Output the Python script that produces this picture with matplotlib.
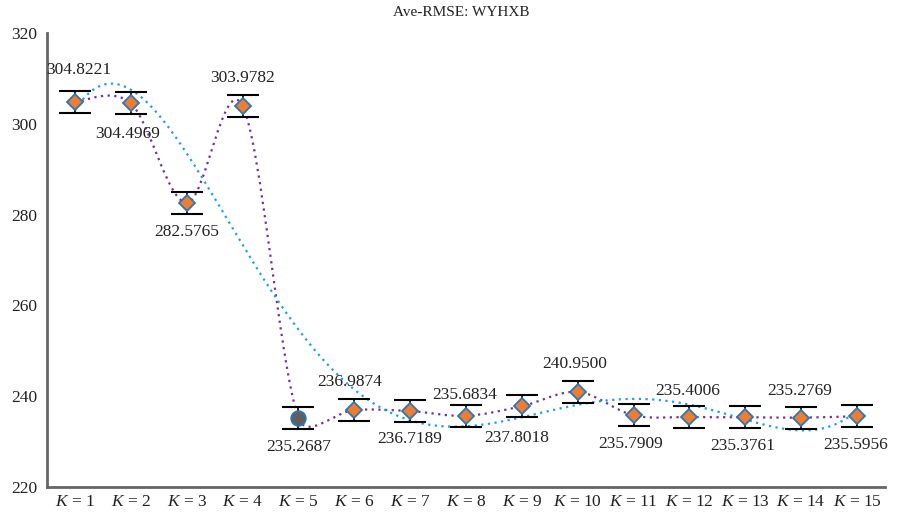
import numpy as np
import matplotlib.pyplot as plt
from matplotlib.path import Path
from matplotlib.patches import PathPatch

plt.rcParams['font.family'] = ['Liberation Serif', 'DejaVu Serif']
plt.rcParams['mathtext.fontset'] = 'custom'
plt.rcParams['mathtext.rm'] = 'Liberation Serif'
plt.rcParams['mathtext.it'] = 'Liberation Serif:italic'

# data
k = np.arange(1, 16)
rmse = np.array([304.8221, 304.4969, 282.5765, 303.9782, 235.2687, 236.9874, 236.7189,
                 235.6834, 237.8018, 240.9500, 235.7909, 235.4006, 235.3761, 235.2769, 235.5956])
err = np.full(15, 2.4)
tick_labels = ['$K$ = %d' % i for i in k]
best = 4  # index of K = 5, drawn as grey circle

# label offsets in points (dx, dy)
label_offsets = [(3, 23), (-2, -22), (0, -21), (0, 20), (0, -21), (-3, 20), (0, -20),
                 (-1, 15), (-4, -23), (-2, 20), (-2, -21), (-1, 19), (-2, -21), (-1, 19), (-1, -21)]

fig = plt.figure(figsize=(8.97, 5.15), dpi=100)
ax = fig.add_axes([47/897, 1 - 487/515, (885 - 47)/897, (487 - 33)/515])


def smooth_path(x, y, sx=55.9, sy=4.54, limit=0.45):
    # Excel-like smoothed line: Catmull-Rom bezier, control arms limited
    # relative to the segment length (computed in screen-like units)
    pts = np.column_stack([np.asarray(x) * sx, np.asarray(y) * sy])
    n = len(pts)
    verts = [pts[0]]
    codes = [Path.MOVETO]
    for i in range(n - 1):
        p0 = pts[max(i - 1, 0)]
        p1 = pts[i]
        p2 = pts[i + 1]
        p3 = pts[min(i + 2, n - 1)]
        seg = np.hypot(*(p2 - p1))
        t1 = (p2 - p0) / 6
        t2 = (p3 - p1) / 6
        for t in (t1, t2):
            ln = np.hypot(*t)
            if ln > limit * seg:
                t *= limit * seg / ln
        verts += [p1 + t1, p2 - t2, p2]
        codes += [Path.CURVE4] * 3
    verts = np.array(verts) / [sx, sy]
    return Path(verts, codes)


# smoothed line through points
ax.add_patch(PathPatch(smooth_path(k, rmse), fill=False, edgecolor='#7030A0',
                       lw=1.6, linestyle=(0, (1, 2)), zorder=2))

# polynomial trend line (order 6)
xs = np.linspace(1, 15, 400)
coef = np.polyfit(k, rmse, 6)
ax.plot(xs, np.polyval(coef, xs), color='#1BA1E2', lw=1.6, linestyle=(0, (1, 2)), zorder=2)

# error bars
ax.errorbar(k, rmse, yerr=err, fmt='none', ecolor='black', elinewidth=1.2,
            capsize=11.5, capthick=1.5, zorder=3)

# markers
mask = np.arange(15) != best
ax.plot(k[mask], rmse[mask], linestyle='none', marker='D', markersize=8.5,
        markerfacecolor='#ED7D31', markeredgecolor='#2E75B6', markeredgewidth=1.3, zorder=4)
ax.plot(k[best], rmse[best], linestyle='none', marker='o', markersize=10.5,
        markerfacecolor='#5F5F5F', markeredgecolor='#2E75B6', markeredgewidth=1.3, zorder=4)

# value labels
for xi, yi, (dx, dy) in zip(k, rmse, label_offsets):
    ax.annotate('%.4f' % yi, (xi, yi), xytext=(dx, dy), textcoords='offset points',
                ha='center', va='center', fontsize=12.5, color='#222222', zorder=5)

ax.set_xlim(0.5, 15.5)
ax.set_ylim(220, 320)
ax.set_yticks(range(220, 321, 20))
ax.set_xticks(k)
ax.set_xticklabels(tick_labels)
ax.tick_params(length=0, labelsize=12.5, colors='#222222')
ax.tick_params(axis='x', pad=5)
ax.tick_params(axis='y', pad=7)

for side in ['top', 'right']:
    ax.spines[side].set_visible(False)
for side in ['left', 'bottom']:
    ax.spines[side].set_color('#666666')
    ax.spines[side].set_linewidth(2)

fig.text(461/897, 1 - 13/515, 'Ave-RMSE: WYHXB', ha='center', va='center',
         fontsize=11, color='#222222')

fig.savefig('out.png', dpi=100)
